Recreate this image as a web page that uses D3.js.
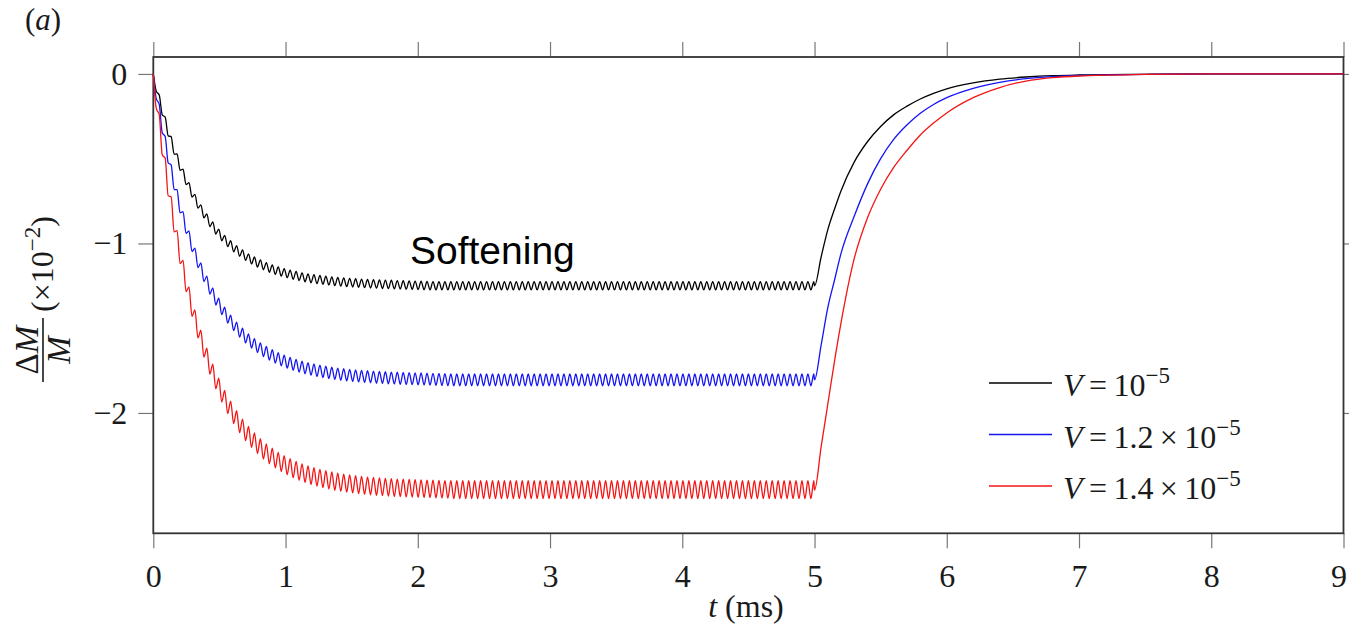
<!DOCTYPE html>
<html>
<head>
<meta charset="utf-8">
<script src="https://cdn.jsdelivr.net/npm/d3@7"></script>
<style>
  html, body { margin: 0; padding: 0; background: #fff; }
  svg { display: block; }
  .serif { font-family: "Liberation Serif", "DejaVu Serif", serif; fill: #1a1a1a; }
  .axis text { font-family: "Liberation Serif", "DejaVu Serif", serif; font-size: 32px; fill: #1a1a1a; }
  .axis line { stroke: #777; stroke-width: 1.2; }
</style>
</head>
<body>
<svg id="chart" width="1349" height="629"></svg>
<script>
// sample times of the oscillating (softening) part, ms
var tOsc = [
  0,0.0225,0.045,0.0675,0.09,0.1125,0.135,0.1575,0.18,0.2025,0.225,0.2475,0.27,0.2925,0.315,0.3375,0.36,0.3825,0.405,0.4275,
  0.45,0.4725,0.495,0.5175,0.54,0.5625,0.585,0.6075,0.63,0.6525,0.675,0.6975,0.72,0.7425,0.765,0.7875,0.81,0.8325,0.855,0.8775,
  0.9,0.9225,0.945,0.9675,0.99,1.0125,1.035,1.0575,1.08,1.1025,1.125,1.1475,1.17,1.1925,1.215,1.2375,1.26,1.2825,1.305,1.3275,
  1.35,1.3725,1.395,1.4175,1.44,1.4625,1.485,1.5075,1.53,1.5525,1.575,1.5975,1.62,1.6425,1.665,1.6875,1.71,1.7325,1.755,1.7775,
  1.8,1.8225,1.845,1.8675,1.89,1.9125,1.935,1.9575,1.98,2.0025,2.025,2.0475,2.07,2.0925,2.115,2.1375,2.16,2.1825,2.205,2.2275,
  2.25,2.2725,2.295,2.3175,2.34,2.3625,2.385,2.4075,2.43,2.4525,2.475,2.4975,2.52,2.5425,2.565,2.5875,2.61,2.6325,2.655,2.6775,
  2.7,2.7225,2.745,2.7675,2.79,2.8125,2.835,2.8575,2.88,2.9025,2.925,2.9475,2.97,2.9925,3.015,3.0375,3.06,3.0825,3.105,3.1275,
  3.15,3.1725,3.195,3.2175,3.24,3.2625,3.285,3.3075,3.33,3.3525,3.375,3.3975,3.42,3.4425,3.465,3.4875,3.51,3.5325,3.555,3.5775,
  3.6,3.6225,3.645,3.6675,3.69,3.7125,3.735,3.7575,3.78,3.8025,3.825,3.8475,3.87,3.8925,3.915,3.9375,3.96,3.9825,4.005,4.0275,
  4.05,4.0725,4.095,4.1175,4.14,4.1625,4.185,4.2075,4.23,4.2525,4.275,4.2975,4.32,4.3425,4.365,4.3875,4.41,4.4325,4.455,4.4775,
  4.5,4.5225,4.545,4.5675,4.59,4.6125,4.635,4.6575,4.68,4.7025,4.725,4.7475,4.77,4.7925,4.815,4.8375,4.86,4.8825,4.905,4.9275,
  4.95,4.9725,4.995
];

// dM/M (x1e-2), V = 1e-5
var blackOsc = [
  0,-0.102,-0.124,-0.241,-0.255,-0.365,-0.370,-0.473,-0.472,-0.568,-0.562,-0.653,-0.641,-0.727,-0.710,-0.792,-0.772,-0.849,-0.826,-0.900,
  -0.873,-0.945,-0.915,-0.984,-0.952,-1.019,-0.984,-1.049,-1.013,-1.076,-1.038,-1.100,-1.061,-1.121,-1.080,-1.139,-1.097,-1.155,-1.113,-1.170,
  -1.126,-1.182,-1.138,-1.193,-1.148,-1.203,-1.157,-1.212,-1.165,-1.219,-1.173,-1.226,-1.179,-1.232,-1.184,-1.237,-1.189,-1.241,-1.193,-1.245,
  -1.197,-1.249,-1.201,-1.252,-1.203,-1.255,-1.206,-1.257,-1.208,-1.259,-1.210,-1.261,-1.212,-1.263,-1.214,-1.264,-1.215,-1.266,-1.216,-1.267,
  -1.217,-1.268,-1.219,-1.269,-1.220,-1.270,-1.221,-1.271,-1.222,-1.272,-1.223,-1.273,-1.224,-1.274,-1.225,-1.274,-1.225,-1.274,-1.225,-1.274,
  -1.225,-1.274,-1.225,-1.274,-1.225,-1.274,-1.225,-1.274,-1.225,-1.274,-1.225,-1.274,-1.225,-1.274,-1.225,-1.274,-1.225,-1.274,-1.225,-1.274,
  -1.225,-1.274,-1.225,-1.274,-1.225,-1.274,-1.225,-1.274,-1.225,-1.274,-1.225,-1.274,-1.225,-1.274,-1.225,-1.274,-1.225,-1.274,-1.225,-1.274,
  -1.225,-1.274,-1.225,-1.274,-1.225,-1.274,-1.225,-1.274,-1.225,-1.274,-1.225,-1.274,-1.225,-1.274,-1.225,-1.274,-1.225,-1.274,-1.225,-1.274,
  -1.225,-1.274,-1.225,-1.274,-1.225,-1.274,-1.225,-1.274,-1.225,-1.274,-1.225,-1.274,-1.225,-1.274,-1.225,-1.274,-1.225,-1.274,-1.225,-1.274,
  -1.225,-1.274,-1.225,-1.274,-1.225,-1.274,-1.225,-1.274,-1.225,-1.274,-1.225,-1.274,-1.225,-1.274,-1.225,-1.274,-1.225,-1.274,-1.225,-1.274,
  -1.225,-1.274,-1.225,-1.274,-1.225,-1.274,-1.225,-1.274,-1.225,-1.274,-1.225,-1.274,-1.225,-1.274,-1.225,-1.274,-1.225,-1.274,-1.225,-1.274,
  -1.225,-1.274,-1.225
];

// V = 1.2e-5
var blueOsc = [
  0,-0.146,-0.180,-0.347,-0.369,-0.525,-0.536,-0.682,-0.683,-0.820,-0.812,-0.941,-0.926,-1.048,-1.027,-1.142,-1.115,-1.225,-1.193,-1.299,
  -1.262,-1.363,-1.322,-1.420,-1.376,-1.470,-1.423,-1.514,-1.464,-1.553,-1.500,-1.587,-1.533,-1.617,-1.561,-1.644,-1.586,-1.667,-1.608,-1.688,
  -1.627,-1.706,-1.644,-1.722,-1.659,-1.736,-1.672,-1.748,-1.684,-1.759,-1.694,-1.769,-1.703,-1.777,-1.711,-1.785,-1.718,-1.791,-1.724,-1.797,
  -1.730,-1.802,-1.735,-1.807,-1.739,-1.811,-1.743,-1.814,-1.746,-1.817,-1.749,-1.820,-1.751,-1.822,-1.753,-1.825,-1.755,-1.826,-1.757,-1.828,
  -1.759,-1.829,-1.760,-1.831,-1.761,-1.832,-1.762,-1.833,-1.763,-1.834,-1.764,-1.835,-1.765,-1.836,-1.766,-1.837,-1.767,-1.838,-1.768,-1.839,
  -1.770,-1.840,-1.770,-1.840,-1.770,-1.840,-1.770,-1.840,-1.770,-1.840,-1.770,-1.840,-1.770,-1.840,-1.770,-1.840,-1.770,-1.840,-1.770,-1.840,
  -1.770,-1.840,-1.770,-1.840,-1.770,-1.840,-1.770,-1.840,-1.770,-1.840,-1.770,-1.840,-1.770,-1.840,-1.770,-1.840,-1.770,-1.840,-1.770,-1.840,
  -1.770,-1.840,-1.770,-1.840,-1.770,-1.840,-1.770,-1.840,-1.770,-1.840,-1.770,-1.840,-1.770,-1.840,-1.770,-1.840,-1.770,-1.840,-1.770,-1.840,
  -1.770,-1.840,-1.770,-1.840,-1.770,-1.840,-1.770,-1.840,-1.770,-1.840,-1.770,-1.840,-1.770,-1.840,-1.770,-1.840,-1.770,-1.840,-1.770,-1.840,
  -1.770,-1.840,-1.770,-1.840,-1.770,-1.840,-1.770,-1.840,-1.770,-1.840,-1.770,-1.840,-1.770,-1.840,-1.770,-1.840,-1.770,-1.840,-1.770,-1.840,
  -1.770,-1.840,-1.770,-1.840,-1.770,-1.840,-1.770,-1.840,-1.770,-1.840,-1.770,-1.840,-1.770,-1.840,-1.770,-1.840,-1.770,-1.840,-1.770,-1.840,
  -1.770,-1.840,-1.770
];

// V = 1.4e-5
var redOsc = [
  0,-0.203,-0.240,-0.477,-0.498,-0.719,-0.725,-0.932,-0.924,-1.119,-1.100,-1.284,-1.256,-1.430,-1.392,-1.558,-1.512,-1.671,-1.618,-1.771,
  -1.712,-1.858,-1.794,-1.936,-1.867,-2.004,-1.930,-2.063,-1.987,-2.116,-2.036,-2.163,-2.080,-2.204,-2.118,-2.240,-2.152,-2.272,-2.182,-2.300,
  -2.208,-2.324,-2.232,-2.346,-2.252,-2.365,-2.270,-2.382,-2.286,-2.397,-2.300,-2.410,-2.312,-2.422,-2.323,-2.432,-2.333,-2.441,-2.341,-2.449,
  -2.348,-2.456,-2.355,-2.462,-2.361,-2.467,-2.366,-2.472,-2.370,-2.476,-2.374,-2.480,-2.378,-2.483,-2.380,-2.486,-2.383,-2.488,-2.386,-2.491,
  -2.388,-2.493,-2.390,-2.494,-2.391,-2.496,-2.392,-2.497,-2.394,-2.498,-2.395,-2.499,-2.396,-2.500,-2.397,-2.501,-2.398,-2.502,-2.399,-2.503,
  -2.400,-2.505,-2.400,-2.505,-2.400,-2.505,-2.400,-2.505,-2.400,-2.505,-2.400,-2.505,-2.400,-2.505,-2.400,-2.505,-2.400,-2.505,-2.400,-2.505,
  -2.400,-2.505,-2.400,-2.505,-2.400,-2.505,-2.400,-2.505,-2.400,-2.505,-2.400,-2.505,-2.400,-2.505,-2.400,-2.505,-2.400,-2.505,-2.400,-2.505,
  -2.400,-2.505,-2.400,-2.505,-2.400,-2.505,-2.400,-2.505,-2.400,-2.505,-2.400,-2.505,-2.400,-2.505,-2.400,-2.505,-2.400,-2.505,-2.400,-2.505,
  -2.400,-2.505,-2.400,-2.505,-2.400,-2.505,-2.400,-2.505,-2.400,-2.505,-2.400,-2.505,-2.400,-2.505,-2.400,-2.505,-2.400,-2.505,-2.400,-2.505,
  -2.400,-2.505,-2.400,-2.505,-2.400,-2.505,-2.400,-2.505,-2.400,-2.505,-2.400,-2.505,-2.400,-2.505,-2.400,-2.505,-2.400,-2.505,-2.400,-2.505,
  -2.400,-2.505,-2.400,-2.505,-2.400,-2.505,-2.400,-2.505,-2.400,-2.505,-2.400,-2.505,-2.400,-2.505,-2.400,-2.505,-2.400,-2.505,-2.400,-2.505,
  -2.400,-2.505,-2.400
];

// recovery after the drive stops (t >= 5 ms)
var tRec = [5.0, 5.05, 5.1, 5.15, 5.2, 5.3, 5.4, 5.5, 5.6, 5.7, 5.8, 5.9, 6.0, 6.2, 6.4, 6.6, 6.8, 7.0, 7.5, 8.0, 9.0];
var blackRec = [-1.25, -1.08, -0.92, -0.80, -0.69, -0.52, -0.40, -0.31, -0.24, -0.19, -0.148, -0.115, -0.088, -0.053, -0.031, -0.018, -0.010, -0.006, -0.002, 0, 0];
var blueRec = [-1.805, -1.60, -1.38, -1.22, -1.06, -0.84, -0.65, -0.50, -0.385, -0.30, -0.232, -0.18, -0.14, -0.085, -0.05, -0.028, -0.016, -0.009, -0.003, 0, 0];
var redRec = [-2.455, -2.20, -1.95, -1.70, -1.47, -1.09, -0.85, -0.68, -0.55, -0.45, -0.36, -0.29, -0.23, -0.14, -0.08, -0.042, -0.022, -0.012, -0.003, 0, 0];

var xTicks = [0, 1, 2, 3, 4, 5, 6, 7, 8, 9];
var yTicks = [0, -1, -2];
var legendCoef = ["", "1.2", "1.4"];
var legendExp = ["\u22125", "\u22125", "\u22125"];

var svg = d3.select("#chart");

var x = d3.scaleLinear().domain([0, 9]).range([153.3, 1343.5]);
var y = d3.scaleLinear().domain([-2.71, 0.1]).range([533.3, 57]);

var series = [
  { color: "#000000", osc: blackOsc, rec: blackRec },
  { color: "#1414f5", osc: blueOsc, rec: blueRec },
  { color: "#f51414", osc: redOsc, rec: redRec }
];

var minus = d => d === 0 ? "0" : "\u2212" + Math.abs(d);

// axes, ticks outward on all four sides
svg.append("g").attr("class", "axis")
  .attr("transform", "translate(0," + y.range()[0] + ")")
  .call(d3.axisBottom(x).tickValues(xTicks).tickSize(15).tickPadding(16))
  .call(g => g.select(".domain").remove())
  .call(g => g.selectAll(".tick text").filter(d => d === 9).attr("dx", -5));

svg.append("g").attr("class", "axis")
  .attr("transform", "translate(0," + y.range()[1] + ")")
  .call(d3.axisTop(x).tickValues(xTicks).tickSize(15).tickFormat(""))
  .call(g => g.select(".domain").remove());

svg.append("g").attr("class", "axis")
  .attr("transform", "translate(" + x.range()[0] + ",0)")
  .call(d3.axisLeft(y).tickValues(yTicks).tickSize(15).tickPadding(11).tickFormat(minus))
  .call(g => g.select(".domain").remove());

svg.append("g").attr("class", "axis")
  .attr("transform", "translate(" + x.range()[1] + ",0)")
  .call(d3.axisRight(y).tickValues(yTicks).tickSize(15).tickFormat(""))
  .call(g => g.select(".domain").remove());

svg.append("rect")
  .attr("x", x.range()[0]).attr("y", y.range()[1])
  .attr("width", x.range()[1] - x.range()[0])
  .attr("height", y.range()[0] - y.range()[1])
  .attr("fill", "none")
  .attr("stroke", "#333")
  .attr("stroke-width", 1.8);

var line = d3.line()
  .x(d => x(d[0]))
  .y(d => y(d[1]))
  .curve(d3.curveMonotoneX);

series.forEach(function(s) {
  var pts = tOsc.map((t, i) => [t, s.osc[i]])
    .concat(tRec.map((t, i) => [t, s.rec[i]]));
  svg.append("path")
    .attr("d", line(pts))
    .attr("fill", "none")
    .attr("stroke", s.color)
    .attr("stroke-width", 1.3)
    .attr("stroke-linejoin", "round");
});

// legend
var leg = svg.append("g").attr("transform", "translate(989,383)");
series.forEach(function(s, i) {
  var row = leg.append("g").attr("transform", "translate(0," + (i * 51.5) + ")");
  row.append("line")
    .attr("x1", 0).attr("x2", 63)
    .attr("stroke", s.color).attr("stroke-width", 1.4);
  var txt = row.append("text").attr("class", "serif")
    .attr("x", 74).attr("y", 13)
    .style("font-size", "32px");
  txt.append("tspan").style("font-style", "italic").text("V");
  txt.append("tspan").text("\u2009=\u2009" + (legendCoef[i] ? legendCoef[i] + "\u2009\u00d7\u200910" : "10"));
  txt.append("tspan").attr("dy", -13).style("font-size", "23px").text(legendExp[i]);
});

// x label
var xl = svg.append("text").attr("class", "serif")
  .attr("x", 746).attr("y", 617)
  .attr("text-anchor", "middle")
  .style("font-size", "32px");
xl.append("tspan").style("font-style", "italic").text("t");
xl.append("tspan").text(" (ms)");

// y label: fraction dM/M and (x10^-2), rotated
var yl = svg.append("g").attr("transform", "translate(43,382) rotate(-90)");
yl.append("line")
  .attr("x1", 0).attr("x2", 64)
  .attr("stroke", "#1a1a1a").attr("stroke-width", 1.6);
var num = yl.append("text").attr("class", "serif")
  .attr("x", 32).attr("y", -5)
  .attr("text-anchor", "middle")
  .style("font-size", "33px");
num.append("tspan").text("\u0394");
num.append("tspan").style("font-style", "italic").text("M");
yl.append("text").attr("class", "serif")
  .attr("x", 32).attr("y", 27)
  .attr("text-anchor", "middle")
  .style("font-size", "33px").style("font-style", "italic")
  .text("M");
var unit = yl.append("text").attr("class", "serif")
  .attr("x", 70).attr("y", 10)
  .style("font-size", "32px");
unit.append("tspan").text("(\u00d710");
unit.append("tspan").attr("dy", -13).style("font-size", "23px").text("\u22122");
unit.append("tspan").attr("dy", 13).text(")");

// panel tag
var tag = svg.append("text").attr("class", "serif")
  .attr("x", 25).attr("y", 30)
  .style("font-size", "31px");
tag.append("tspan").text("(");
tag.append("tspan").style("font-style", "italic").text("a");
tag.append("tspan").text(")");

svg.append("text")
  .attr("x", 410).attr("y", 264)
  .style("font-family", "'Liberation Sans', Arial, sans-serif")
  .style("font-size", "39px")
  .attr("fill", "#000")
  .text("Softening");
</script>
</body>
</html>
